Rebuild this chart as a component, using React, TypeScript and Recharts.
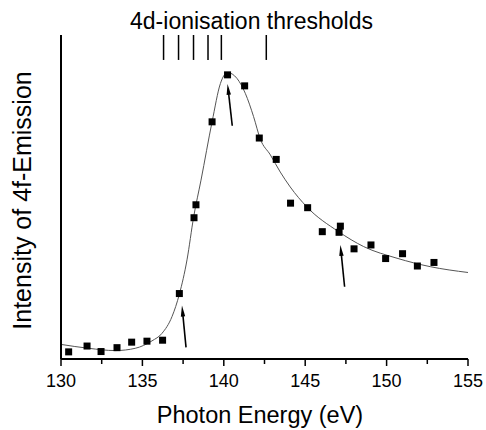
import React from 'react';
import {
  ComposedChart,
  Line,
  Scatter,
  XAxis,
  YAxis,
  ReferenceLine,
  Customized,
} from 'recharts';

// Measured data points (photon energy in eV, intensity in arbitrary units)
const pointEnergy = [
  130.47, 131.6, 132.46, 133.44, 134.34, 135.28, 136.24, 137.27, 138.17, 138.29,
  139.28, 140.23, 141.28, 142.18, 143.22, 144.1, 145.15, 146.05, 147.16, 147.08,
  148.0, 149.04, 149.94, 150.98, 151.89, 152.91,
];
const pointIntensity = [
  2.2, 4.0, 2.3, 3.5, 5.2, 5.5, 5.8, 20.2, 43.6, 47.6,
  73.2, 87.7, 84.3, 68.2, 61.6, 48.1, 46.7, 39.3, 41.0, 39.1,
  34.0, 35.2, 31.0, 32.5, 28.7, 29.8,
];

// Fitted curve
const curveEnergy = [
  130, 131.7, 133.34, 134.56, 135.59, 136.2, 136.82, 137.27, 137.74, 138.15,
  138.6, 139.28, 139.79, 140.23, 140.81, 141.32, 141.83, 142.24, 142.86, 143.47,
  144.08, 145.11, 147.05, 148.59, 150.64, 152.68, 155,
];
const curveIntensity = [
  4.5, 3.3, 2.6, 3.3, 5.6, 7.9, 13.1, 20, 30.6, 43.9,
  55.2, 73.2, 85, 88.4, 86.6, 82, 74.8, 67.9, 63.0, 57.7,
  53.1, 46.9, 39.3, 34.7, 31.1, 28.5, 26.7,
];

// 4d ionisation thresholds (eV)
const thresholds = [136.3, 137.22, 138.14, 139.03, 139.85, 142.61];
const thresholdTop = 100;
const thresholdBottom = 92.3;

// Arrows: tail (energy, intensity) -> tip (energy, intensity)
const arrowTailE = [137.68, 140.52, 147.42];
const arrowTailI = [3.6, 72.0, 22.3];
const arrowTipE = [137.43, 140.23, 147.16];
const arrowTipI = [16.5, 84.9, 35.2];

const xTicks = [130, 132.5, 135, 137.5, 140, 142.5, 145, 147.5, 150, 152.5, 155];
const majorTicks = [130, 135, 140, 145, 150, 155];

const titleText = '4d-ionisation thresholds';
const xLabelText = 'Photon Energy (eV)';
const yLabelText = 'Intensity of 4f-Emission';

const points = pointEnergy.map((x, i) => ({ x, y: pointIntensity[i] }));
const curve = curveEnergy.map((x, i) => ({ x, y: curveIntensity[i] }));

const FONT = '"Liberation Sans", Arial, Helvetica, sans-serif';

if (typeof document !== 'undefined') {
  document.body.style.margin = '0';
}

const Square = (props: any) => {
  const { cx, cy } = props;
  if (cx == null || cy == null) return null;
  return <rect x={cx - 3.5} y={cy - 3.5} width={7} height={7} fill="#000" />;
};

const XTick = (props: any) => {
  const { x, y, payload } = props;
  const v = payload.value;
  const major = majorTicks.includes(v);
  return (
    <g>
      <line x1={x} y1={y} x2={x} y2={y + (major ? 7 : 5)} stroke="#000" strokeWidth={1.5} />
      {major && (
        <text
          x={x}
          y={y + 15}
          dy="0.71em"
          textAnchor="middle"
          fontSize={18}
          fontFamily={FONT}
          fill="#000"
        >
          {v}
        </text>
      )}
    </g>
  );
};

const Arrow = (props: any) => {
  const { x1, y1, x2, y2 } = props;
  if ([x1, y1, x2, y2].some((v) => v == null || isNaN(v))) return null;
  const dx = x2 - x1;
  const dy = y2 - y1;
  const len = Math.sqrt(dx * dx + dy * dy);
  const ux = dx / len;
  const uy = dy / len;
  const hl = 11;
  const hw = 2.2;
  const bx = x2 - ux * hl;
  const by = y2 - uy * hl;
  const px = -uy;
  const py = ux;
  return (
    <g>
      <line x1={x1} y1={y1} x2={bx + ux * 2} y2={by + uy * 2} stroke="#000" strokeWidth={1.6} />
      <polygon
        points={`${x2},${y2} ${bx + px * hw},${by + py * hw} ${bx - px * hw},${by - py * hw}`}
        fill="#000"
      />
    </g>
  );
};

const Texts = () => (
  <g fontFamily={FONT} fill="#000">
    <text x={243.5} y={21} textAnchor="middle" fontSize={23}>
      {titleText}
    </text>
    <text x={252} y={415} textAnchor="middle" fontSize={23.5}>
      {xLabelText}
    </text>
    <text
      x={23}
      y={192.5}
      textAnchor="middle"
      fontSize={25}
      transform="rotate(-90 23 192.5)"
    >
      {yLabelText}
    </text>
  </g>
);

export default function App() {
  return (
    <div style={{ width: 478, height: 422, padding: '8px 0 0 8px', background: '#fff' }}>
      <ComposedChart
        width={478}
        height={422}
        margin={{ top: 27, right: 18, left: 0, bottom: 0 }}
        style={{ background: '#fff', overflow: 'visible' }}
      >
        <XAxis
          type="number"
          dataKey="x"
          domain={[130, 155]}
          allowDataOverflow
          ticks={xTicks}
          interval={0}
          tick={<XTick />}
          tickLine={false}
          tickSize={0}
          tickMargin={0}
          axisLine={{ stroke: '#000', strokeWidth: 2 }}
          height={71}
        />
        <YAxis
          type="number"
          domain={[0, 100]}
          allowDataOverflow
          tick={false}
          tickLine={false}
          axisLine={{ stroke: '#000', strokeWidth: 2 }}
          width={53}
        />
        <Line
          data={curve}
          dataKey="y"
          type="monotone"
          dot={false}
          stroke="#555"
          strokeWidth={1}
          isAnimationActive={false}
        />
        <Scatter data={points} dataKey="y" shape={<Square />} isAnimationActive={false} />
        {thresholds.map((t) => (
          <ReferenceLine
            key={'t' + t}
            segment={[
              { x: t, y: thresholdTop },
              { x: t, y: thresholdBottom },
            ]}
            stroke="#000"
            strokeWidth={1.5}
          />
        ))}
        {arrowTailE.map((e, i) => (
          <ReferenceLine
            key={'a' + i}
            segment={[
              { x: e, y: arrowTailI[i] },
              { x: arrowTipE[i], y: arrowTipI[i] },
            ]}
            shape={(p: any) => <Arrow {...p} />}
          />
        ))}
        <Customized component={Texts} />
      </ComposedChart>
    </div>
  );
}
